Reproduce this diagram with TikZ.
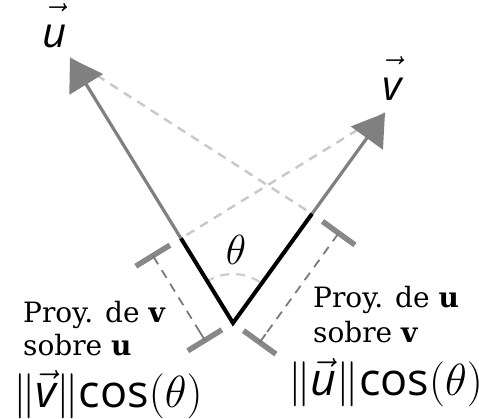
\RequirePackage{fix-cm}
\documentclass[tikz,border=0pt]{standalone}
\usepackage{fontspec}
\usepackage{amsmath}
\setmainfont{DejaVu Serif}
\newfontfamily\osans{Open Sans}
\usetikzlibrary{arrows.meta}
\definecolor{shaftgray}{HTML}{808080}
\definecolor{lightdash}{HTML}{C8C8C8}
\definecolor{bargray}{HTML}{888888}
\definecolor{dimgray}{HTML}{7A7A7A}
\definecolor{arcgray}{HTML}{CCCCCC}
\tikzset{
  vecarrow/.style={draw=shaftgray, line width=3.2pt, -{Triangle[length=31pt,width=39pt]}},
  projline/.style={draw=black, line width=4pt},
  perpdash/.style={draw=lightdash, line width=2.4pt, dash pattern=on 9pt off 7pt},
  bracketbar/.style={draw=bargray, line width=5.5pt},
  dimline/.style={draw=dimgray, line width=1.8pt, dash pattern=on 9pt off 7pt},
  dimtick/.style={draw=dimgray, line width=1.8pt},
  anglearc/.style={draw=arcgray, line width=2.2pt, dash pattern=on 9pt off 7pt},
  smalltxt/.style={anchor=base west, inner sep=0pt, font=\fontsize{28}{32}\selectfont},
  formula/.style={anchor=base west, inner sep=0pt, font=\fontsize{45}{50}\selectfont},
  veclabel/.style={anchor=base, inner sep=0pt, font=\fontsize{42}{50}\selectfont}
}
\begin{document}
\begin{tikzpicture}[x=1pt,y=-1pt]
\useasboundingbox (0,0) rectangle (479,418);
% main points
\coordinate (O) at (233,323);
\coordinate (U) at (70,58);
\coordinate (V) at (385,113);
\coordinate (Pu) at (181,238.4);
\coordinate (Pv) at (312,213.8);
% light perpendicular dashes
\draw[perpdash] (U) -- (Pv);
\draw[perpdash] (V) -- (Pu);
% angle arc
\draw[anglearc] (O) ++(-57:49) arc[start angle=-57, end angle=-120, radius=49];
% vectors
\draw[vecarrow] (O) -- (U);
\draw[vecarrow] (O) -- (V);
\draw[projline, line join=miter] (Pu) -- (O) -- (Pv);
% left bracket (projection of v on u)
\coordinate (A1) at (169.9,245.2);
\coordinate (A2) at (135.8,266.2);
\coordinate (Am) at (152.9,255.7);
\coordinate (Ax) at (158.1,264.2);
\coordinate (B1) at (221.9,329.8);
\coordinate (B2) at (187.8,350.8);
\coordinate (Bm) at (204.9,340.3);
\coordinate (Bx) at (199.7,331.8);
\draw[bracketbar] (A1) -- (A2);
\draw[bracketbar] (B1) -- (B2);
\draw[dimtick] (Am) -- (Ax);
\draw[dimtick] (Bm) -- (Bx);
\draw[dimline, dash phase=-7pt] (Ax) -- (Bx);
% right bracket (projection of u on v)
\coordinate (C1) at (322.5,221.4);
\coordinate (C2) at (354.9,244.9);
\coordinate (Cm) at (338.7,233.1);
\coordinate (Cx) at (332.8,241.2);
\coordinate (D1) at (243.5,330.6);
\coordinate (D2) at (275.9,354.1);
\coordinate (Dm) at (259.7,342.3);
\coordinate (Dx) at (265.6,334.2);
\draw[bracketbar] (C1) -- (C2);
\draw[bracketbar] (D1) -- (D2);
\draw[dimtick] (Cm) -- (Cx);
\draw[dimtick] (Dm) -- (Dx);
\draw[dimline, dash phase=-7pt] (Cx) -- (Dx);
% labels
\node[veclabel] (lu) at (55,47) {$\vec{\text{\osans\itshape u\vphantom{d}}}$};
\node[veclabel] (lv) at (392,100) {$\vec{\text{\osans\itshape v\vphantom{d}}}$};
\node[inner sep=0pt, font=\fontsize{42}{50}\selectfont] (th) at (236,250) {$\theta$};
\node[smalltxt] (t1) at (23,322) {Proy. de \textbf{v}};
\node[smalltxt] (t2) at (23,355) {sobre \textbf{u}};
\node[smalltxt] (t3) at (313,307) {Proy. de \textbf{u}};
\node[smalltxt] (t4) at (313,342) {sobre \textbf{v}};
\node[formula] (f1) at (13,407) {$\|\vec{\text{\osans\itshape v}}\|$\osans cos$(\theta)$};
\node[formula] (f2) at (288,395) {$\|\vec{\text{\osans\itshape u}}\|$\osans cos$(\theta)$};
\end{tikzpicture}
\end{document}
